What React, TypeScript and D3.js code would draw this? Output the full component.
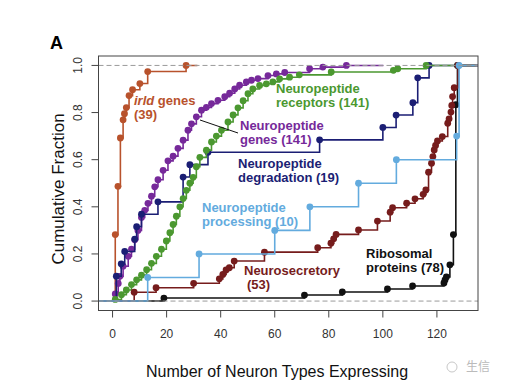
import * as d3 from "d3";

// cumulative fraction curves (x = number of neuron types, F = fraction)
const irldX = [1, 2, 2.9, 3.9, 4.4, 5.1, 6.1, 7.4, 10.1, 13, 27.2];
const irldF = [0.282, 0.487, 0.692, 0.769, 0.795, 0.821, 0.872, 0.897, 0.923, 0.974, 1.0];

const genesX = [1, 2.1, 2.7, 3.9, 5.8, 7, 8.2, 9.4, 10.7, 11.9, 13.1, 14.4, 15.6, 16.8, 18.7, 20.5, 22.4, 24.2, 26.1, 27.9, 29.2, 31, 32.9, 34.7, 36.6, 39, 41.5, 43.3, 45.2, 47, 49.5, 51.4, 53.8, 57.5, 60.6, 63.7, 72.9, 77.8, 86.5];
const genesF = [0.03, 0.075, 0.105, 0.148, 0.19, 0.22, 0.26, 0.3, 0.355, 0.385, 0.415, 0.445, 0.485, 0.515, 0.555, 0.595, 0.615, 0.648, 0.683, 0.725, 0.752, 0.782, 0.81, 0.822, 0.838, 0.852, 0.867, 0.882, 0.9, 0.916, 0.93, 0.937, 0.944, 0.957, 0.964, 0.97, 0.986, 0.993, 1.0];

const receptorsX = [1, 3.3, 5.1, 7, 8.9, 10.7, 12.6, 14.4, 16.2, 18.1, 19.9, 21.2, 22.4, 23.6, 24.9, 26.1, 27.3, 28.6, 29.8, 31, 32.3, 34.7, 36.6, 38.4, 40.3, 42.7, 44.6, 46.4, 48.3, 50.1, 51.9, 54.4, 56.9, 59.3, 61.8, 65.5, 69.1, 80.9, 103.9, 105.5, 116];
const receptorsF = [0.007, 0.027, 0.047, 0.07, 0.09, 0.11, 0.133, 0.16, 0.19, 0.22, 0.255, 0.29, 0.325, 0.36, 0.4, 0.435, 0.47, 0.5, 0.525, 0.57, 0.61, 0.64, 0.675, 0.7, 0.725, 0.76, 0.79, 0.82, 0.85, 0.88, 0.9, 0.915, 0.922, 0.93, 0.943, 0.95, 0.96, 0.972, 0.979, 0.986, 1.0];

const degradX = [1.4, 3.2, 4.5, 8.2, 8.9, 10.7, 16.8, 26.1, 28.6, 35.3, 76.6, 100, 104.9, 111.1, 112.9, 117.1];
const degradF = [2, 3, 4, 5, 6, 7, 8, 10, 11, 12, 13, 14, 15, 16, 18, 19].map((n) => n / 19);

const processX = [13, 32, 60, 73, 91, 105, 127.3, 128.2];
const processF = [0.1, 0.2, 0.3, 0.4, 0.5, 0.6, 0.7, 1.0];

const secretX = [8, 16.1, 30, 39.5, 40.8, 42, 43.2, 45, 56.2, 75.9, 80.8, 81.8, 82.7, 91, 98, 102.7, 103.6, 108.8, 111.9, 114.9, 115.9, 116.9, 118, 118.5, 119, 119.5, 120.2, 122, 124, 124.5, 125.2, 125.5, 125.8, 126.4, 127.8];
const secretF = [2, 3, 4, 5, 6, 7, 7.5, 9, 11, 12, 13, 14, 15, 16, 18, 20, 21, 22, 23, 24, 25, 29, 31, 32.5, 34, 35, 36, 37, 40, 41, 42.5, 44, 46, 48, 53].map((n) => n / 53);

const riboX = [19, 71, 85, 101.7, 111, 122.6, 123, 123.5, 124.8, 126.1, 127, 127.6];
const riboF = [1, 2, 3, 4, 5, 6, 7, 8, 12, 22, 65, 78].map((n) => n / 78);

const xTicks = [0, 20, 40, 60, 80, 100, 120];
const yTicks = [0, 0.2, 0.4, 0.6, 0.8, 1.0];

const series = [
  { key: "irld", xs: irldX, fs: irldF, color: "#b8522c" },
  { key: "genes", xs: genesX, fs: genesF, color: "#76299a" },
  { key: "degrad", xs: degradX, fs: degradF, color: "#1b1e74" },
  { key: "receptors", xs: receptorsX, fs: receptorsF, color: "#4b9830" },
  { key: "ribo", xs: riboX, fs: riboF, color: "#111111" },
  { key: "secret", xs: secretX, fs: secretF, color: "#761c1c" },
  { key: "process", xs: processX, fs: processF, color: "#63abde" },
];

const font = "'Liberation Sans', Arial, sans-serif";

export default function App() {
  const left = 98.5, right = 478, top = 56, bottom = 310.5;
  const x = d3.scaleLinear().domain([-5.2, 135.2]).range([left, right]);
  const y = d3.scaleLinear().domain([-0.04, 1.04]).range([bottom, top]);

  // like R's plot.stepfun: horizontal ends stretch 2*dr past the knots
  function stepPath(xs: number[], fs: number[]) {
    const lo = d3.min(xs)!, hi = d3.max(xs)!;
    const diffs = d3.pairs(xs).map(([a, b]) => b - a);
    const dr = Math.max(0.08 * (hi - lo), d3.median(diffs) || 0);
    const pts: [number, number][] = [[lo - 2 * dr, 0]];
    xs.forEach((v, i) => pts.push([v, fs[i]]));
    pts.push([hi + 2 * dr, fs[fs.length - 1]]);
    return d3.line<[number, number]>()
      .x((d) => x(d[0]))
      .y((d) => y(d[1]))
      .curve(d3.curveStepAfter)(pts);
  }

  const bold = { fontFamily: font, fontWeight: "bold", fontSize: 13 } as const;

  return (
    <svg width={508} height={387} style={{ position: "absolute", left: 0, top: 0, background: "#fff" }}>
      <defs>
        <clipPath id="plotArea">
          <rect x={left} y={top} width={right - left} height={bottom - top} />
        </clipPath>
      </defs>

      <text x={50} y={49} fontFamily={font} fontWeight="bold" fontSize={18} fill="#000">A</text>

      <g clipPath="url(#plotArea)">
        {series.map((s) => (
          <g key={s.key}>
            <path d={stepPath(s.xs, s.fs) || ""} fill="none" stroke={s.color} strokeWidth={1.6} />
            {s.xs.map((v, i) => (
              <circle key={i} cx={x(v)} cy={y(s.fs[i])} r={3.4} fill={s.color} />
            ))}
          </g>
        ))}
        <line x1={left} x2={right} y1={y(0)} y2={y(0)} stroke="#9a9a9a" strokeWidth={1} strokeDasharray="5,3" />
        <line x1={left} x2={right} y1={y(1)} y2={y(1)} stroke="#9a9a9a" strokeWidth={1} strokeDasharray="5,3" />
      </g>

      <rect x={left} y={top} width={right - left} height={bottom - top} fill="none" stroke="#444" strokeWidth={1} />

      {/* x axis */}
      {xTicks.map((t) => (
        <g key={t}>
          <line x1={x(t)} x2={x(t)} y1={bottom} y2={bottom + 7} stroke="#444" />
          <text x={x(t)} y={338} textAnchor="middle" fontFamily={font} fontSize={12} fill="#333">{t}</text>
        </g>
      ))}
      <text x={277} y={377} textAnchor="middle" fontFamily={font} fontSize={16} fill="#111">Number of Neuron Types Expressing</text>

      {/* y axis */}
      {yTicks.map((t) => (
        <g key={t}>
          <line x1={left - 7} x2={left} y1={y(t)} y2={y(t)} stroke="#444" />
          <text transform={`translate(82,${y(t)}) rotate(-90)`} textAnchor="middle" fontFamily={font} fontSize={12} fill="#333">{t.toFixed(1)}</text>
        </g>
      ))}
      <text transform="translate(64,189) rotate(-90)" textAnchor="middle" fontFamily={font} fontSize={17} fill="#111">Cumulative Fraction</text>

      {/* labels */}
      <text x={134} y={105} {...bold} fill="#b8522c"><tspan fontStyle="italic">irld</tspan> genes</text>
      <text x={134} y={119} {...bold} fill="#b8522c">(39)</text>

      <text x={276} y={93} {...bold} fill="#4b9830">Neuropeptide</text>
      <text x={276} y={107} {...bold} fill="#4b9830">receptors (141)</text>

      <line x1={200} y1={120} x2={238} y2={133} stroke="#111" strokeWidth={1} />
      <text x={240} y={129.5} {...bold} fill="#76299a">Neuropeptide</text>
      <text x={240} y={143.5} {...bold} fill="#76299a">genes (141)</text>

      <text x={238} y={168} {...bold} fill="#1b1e74">Neuropeptide</text>
      <text x={238} y={182} {...bold} fill="#1b1e74">degradation (19)</text>

      <text x={202} y={211.5} {...bold} fill="#63abde">Neuropeptide</text>
      <text x={202} y={225.5} {...bold} fill="#63abde">processing (10)</text>

      <text x={244} y={275} {...bold} fill="#761c1c">Neurosecretory</text>
      <text x={247} y={289} {...bold} fill="#761c1c">(53)</text>

      <text x={366} y={258} {...bold} fill="#111">Ribosomal</text>
      <text x={366} y={272} {...bold} fill="#111">proteins (78)</text>

      {/* watermark */}
      <circle cx={452} cy={367} r={5} fill="none" stroke="#c8c8c8" strokeWidth={1} />
      <text x={466} y={371} fontFamily="'Noto Sans CJK SC', sans-serif" fontSize={12} fill="#bbbbbb">生信</text>
    </svg>
  );
}
